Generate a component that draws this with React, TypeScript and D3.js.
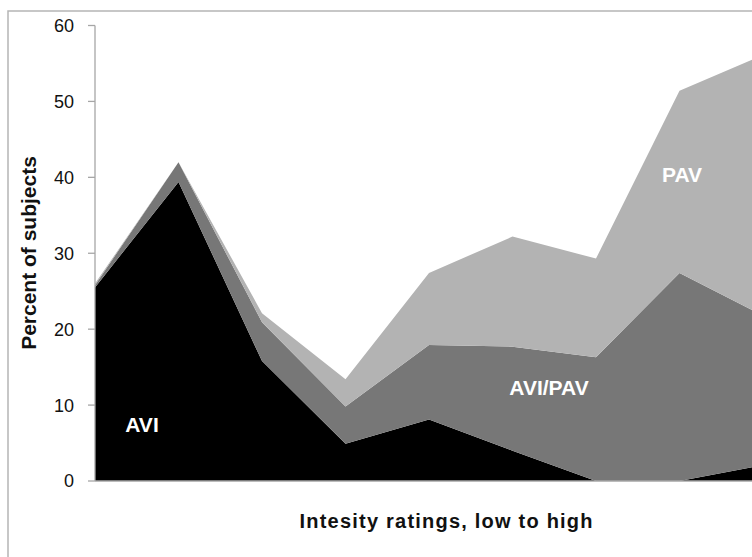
import React, { useMemo } from "react";
import * as d3 from "d3";

// intensity levels, low to high (no tick labels drawn on the x axis)
const levels = ["1", "2", "3", "4", "5", "6", "7", "8", "9"];
const avi = [25.5, 39.4, 15.8, 4.9, 8.1, 4.0, 0, 0, 2.1];
const aviPav = [0.3, 2.6, 5.1, 4.9, 9.8, 13.7, 16.3, 27.4, 19.7];
const pav = [0.2, 0, 1.2, 3.6, 9.5, 14.5, 13.0, 24.0, 34.3];
const yTicks = [0, 10, 20, 30, 40, 50, 60];

const seriesKeys = ["AVI", "AVI/PAV", "PAV"];
const seriesColors = ["#000000", "#777777", "#b3b3b3"];

export default function App() {
  const width = 752;
  const height = 557;
  const left = 95;
  const top = 25.5;
  const bottom = 481;
  const lastX = 763;

  const rows = levels.map((l, i) => ({
    level: l,
    AVI: avi[i],
    "AVI/PAV": aviPav[i],
    PAV: pav[i],
  }));

  const stacked = useMemo(() => d3.stack<any>().keys(seriesKeys)(rows), []);

  const x = d3.scalePoint<string>().domain(levels).range([left, lastX]);
  const y = d3.scaleLinear().domain([0, 60]).range([bottom, top]);

  const area = d3
    .area<any>()
    .x((d) => x(d.data.level) as number)
    .y0((d) => y(d[0]))
    .y1((d) => y(d[1]));

  const font = "Arial, 'Liberation Sans', sans-serif";

  return (
    <svg
      width={width}
      height={height}
      style={{ position: "absolute", left: 0, top: 0, background: "#fff" }}
      fontFamily={font}
    >
      {/* chart frame, cut off on the right and bottom */}
      <rect x={8} y={11} width={800} height={600} fill="none" stroke="#b5b5b5" strokeWidth={1.5} />

      {stacked.map((s, i) => (
        <path key={seriesKeys[i]} d={area(s) || ""} fill={seriesColors[i]} />
      ))}

      {/* axes */}
      <g stroke="#a6a6a6" strokeWidth={1.3}>
        <line x1={left} x2={left} y1={top} y2={bottom} />
        <line x1={left} x2={width} y1={bottom} y2={bottom} />
        {yTicks.map((t) => (
          <line key={t} x1={left - 7} x2={left} y1={y(t)} y2={y(t)} />
        ))}
      </g>
      <g fontSize={18} fill="#111" textAnchor="end">
        {yTicks.map((t) => (
          <text key={t} x={74} y={y(t)} dy="0.36em">
            {t}
          </text>
        ))}
      </g>

      <text
        transform="translate(36,253) rotate(-90)"
        textAnchor="middle"
        fontSize={21}
        fontWeight="bold"
        fill="#111"
      >
        Percent of subjects
      </text>
      <text
        x={446}
        y={528}
        textAnchor="middle"
        fontSize={20}
        fontWeight="bold"
        fill="#111"
        textLength={293}
      >
        Intesity ratings,  low to high
      </text>

      {/* series labels */}
      <g fill="#fff" fontSize={21} fontWeight="bold" textAnchor="middle">
        <text x={142} y={432}>AVI</text>
        <text x={549} y={395}>AVI/PAV</text>
        <text x={682} y={182}>PAV</text>
      </g>
    </svg>
  );
}
